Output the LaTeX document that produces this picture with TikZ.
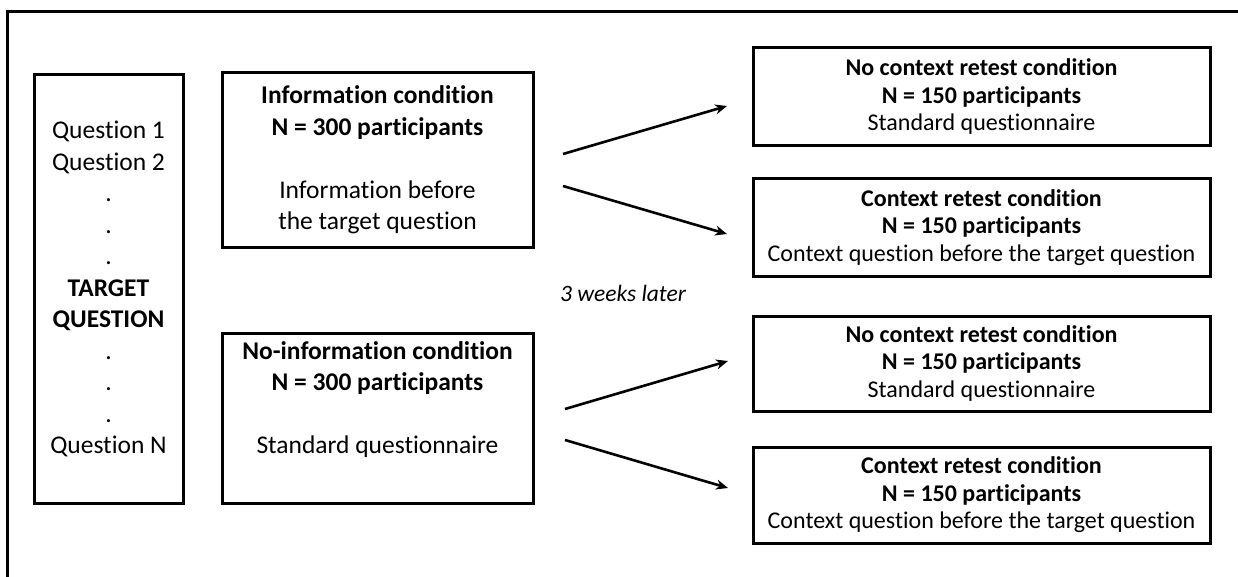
\documentclass[tikz,border=0pt]{standalone}
\usepackage{fontspec}
\setmainfont{Carlito}[Ligatures=NoCommon]
\usetikzlibrary{arrows.meta}
\begin{document}
\begin{tikzpicture}[x=1pt,y=-1pt,
  frame/.style={line width=3pt},
  box/.style={draw, line width=3pt, align=center, inner sep=0pt, anchor=center},
  lbox/.style={box, font=\fontsize{25.5}{31.5}\selectfont},
  rbox/.style={box, font=\fontsize{24}{27.5}\selectfont, minimum width=457pt},
  arr/.style={line width=2.6pt, -{Stealth[length=12pt,width=10pt]}},
  note/.style={font=\fontsize{23.5}{27}\selectfont\itshape}
]
\useasboundingbox (0,0) rectangle (1238,577);
\fill[white] (0,0) rectangle (1238,577);
% outer frame (only top and left edges visible)
\draw[frame] (7,590) -- (7,12) -- (1250,12);

% question list
\node[lbox, minimum width=149pt, minimum height=429pt] (q) at (108.5,289)
  {Question 1\\ Question 2\\ .\\ .\\ .\\ \textbf{TARGET}\\ \textbf{QUESTION}\\ .\\ .\\ .\\ Question N};

% first-wave conditions
\node[lbox, minimum width=311pt, minimum height=174pt] (info) at (377.5,160)
  {\textbf{Information condition}\\ \textbf{N = 300 participants}\\[31.5pt] Information before\\ the target question};
\node[lbox, minimum width=311pt, minimum height=170pt] (noinfo) at (377.5,418)
  {\textbf{No-information condition}\\ \textbf{N = 300 participants}\\[31.5pt] Standard questionnaire\\ \strut};

% retest conditions
\node[rbox, minimum height=98pt] (r1) at (981.5,97)
  {\textbf{No context retest condition}\\ \textbf{N = 150 participants}\\ Standard questionnaire};
\node[rbox, minimum height=97pt] (r2) at (981.5,227.5)
  {\textbf{Context retest condition}\\ \textbf{N = 150 participants}\\ Context question before the target question};
\node[rbox, minimum height=95pt] (r3) at (981.5,363.5)
  {\textbf{No context retest condition}\\ \textbf{N = 150 participants}\\ Standard questionnaire};
\node[rbox, minimum height=96pt] (r4) at (981.5,495)
  {\textbf{Context retest condition}\\ \textbf{N = 150 participants}\\ Context question before the target question};

\node[note] (later) at (623,293) {3 weeks later};

% arrows
\coordinate (a1s) at (563,154); \coordinate (a1e) at (727,106);
\coordinate (a2s) at (563,186); \coordinate (a2e) at (727,234);
\coordinate (a3s) at (565,409); \coordinate (a3e) at (728,361);
\coordinate (a4s) at (565,440); \coordinate (a4e) at (728,488);
\draw[arr] (a1s) -- (a1e);
\draw[arr] (a2s) -- (a2e);
\draw[arr] (a3s) -- (a3e);
\draw[arr] (a4s) -- (a4e);
\end{tikzpicture}
\end{document}
